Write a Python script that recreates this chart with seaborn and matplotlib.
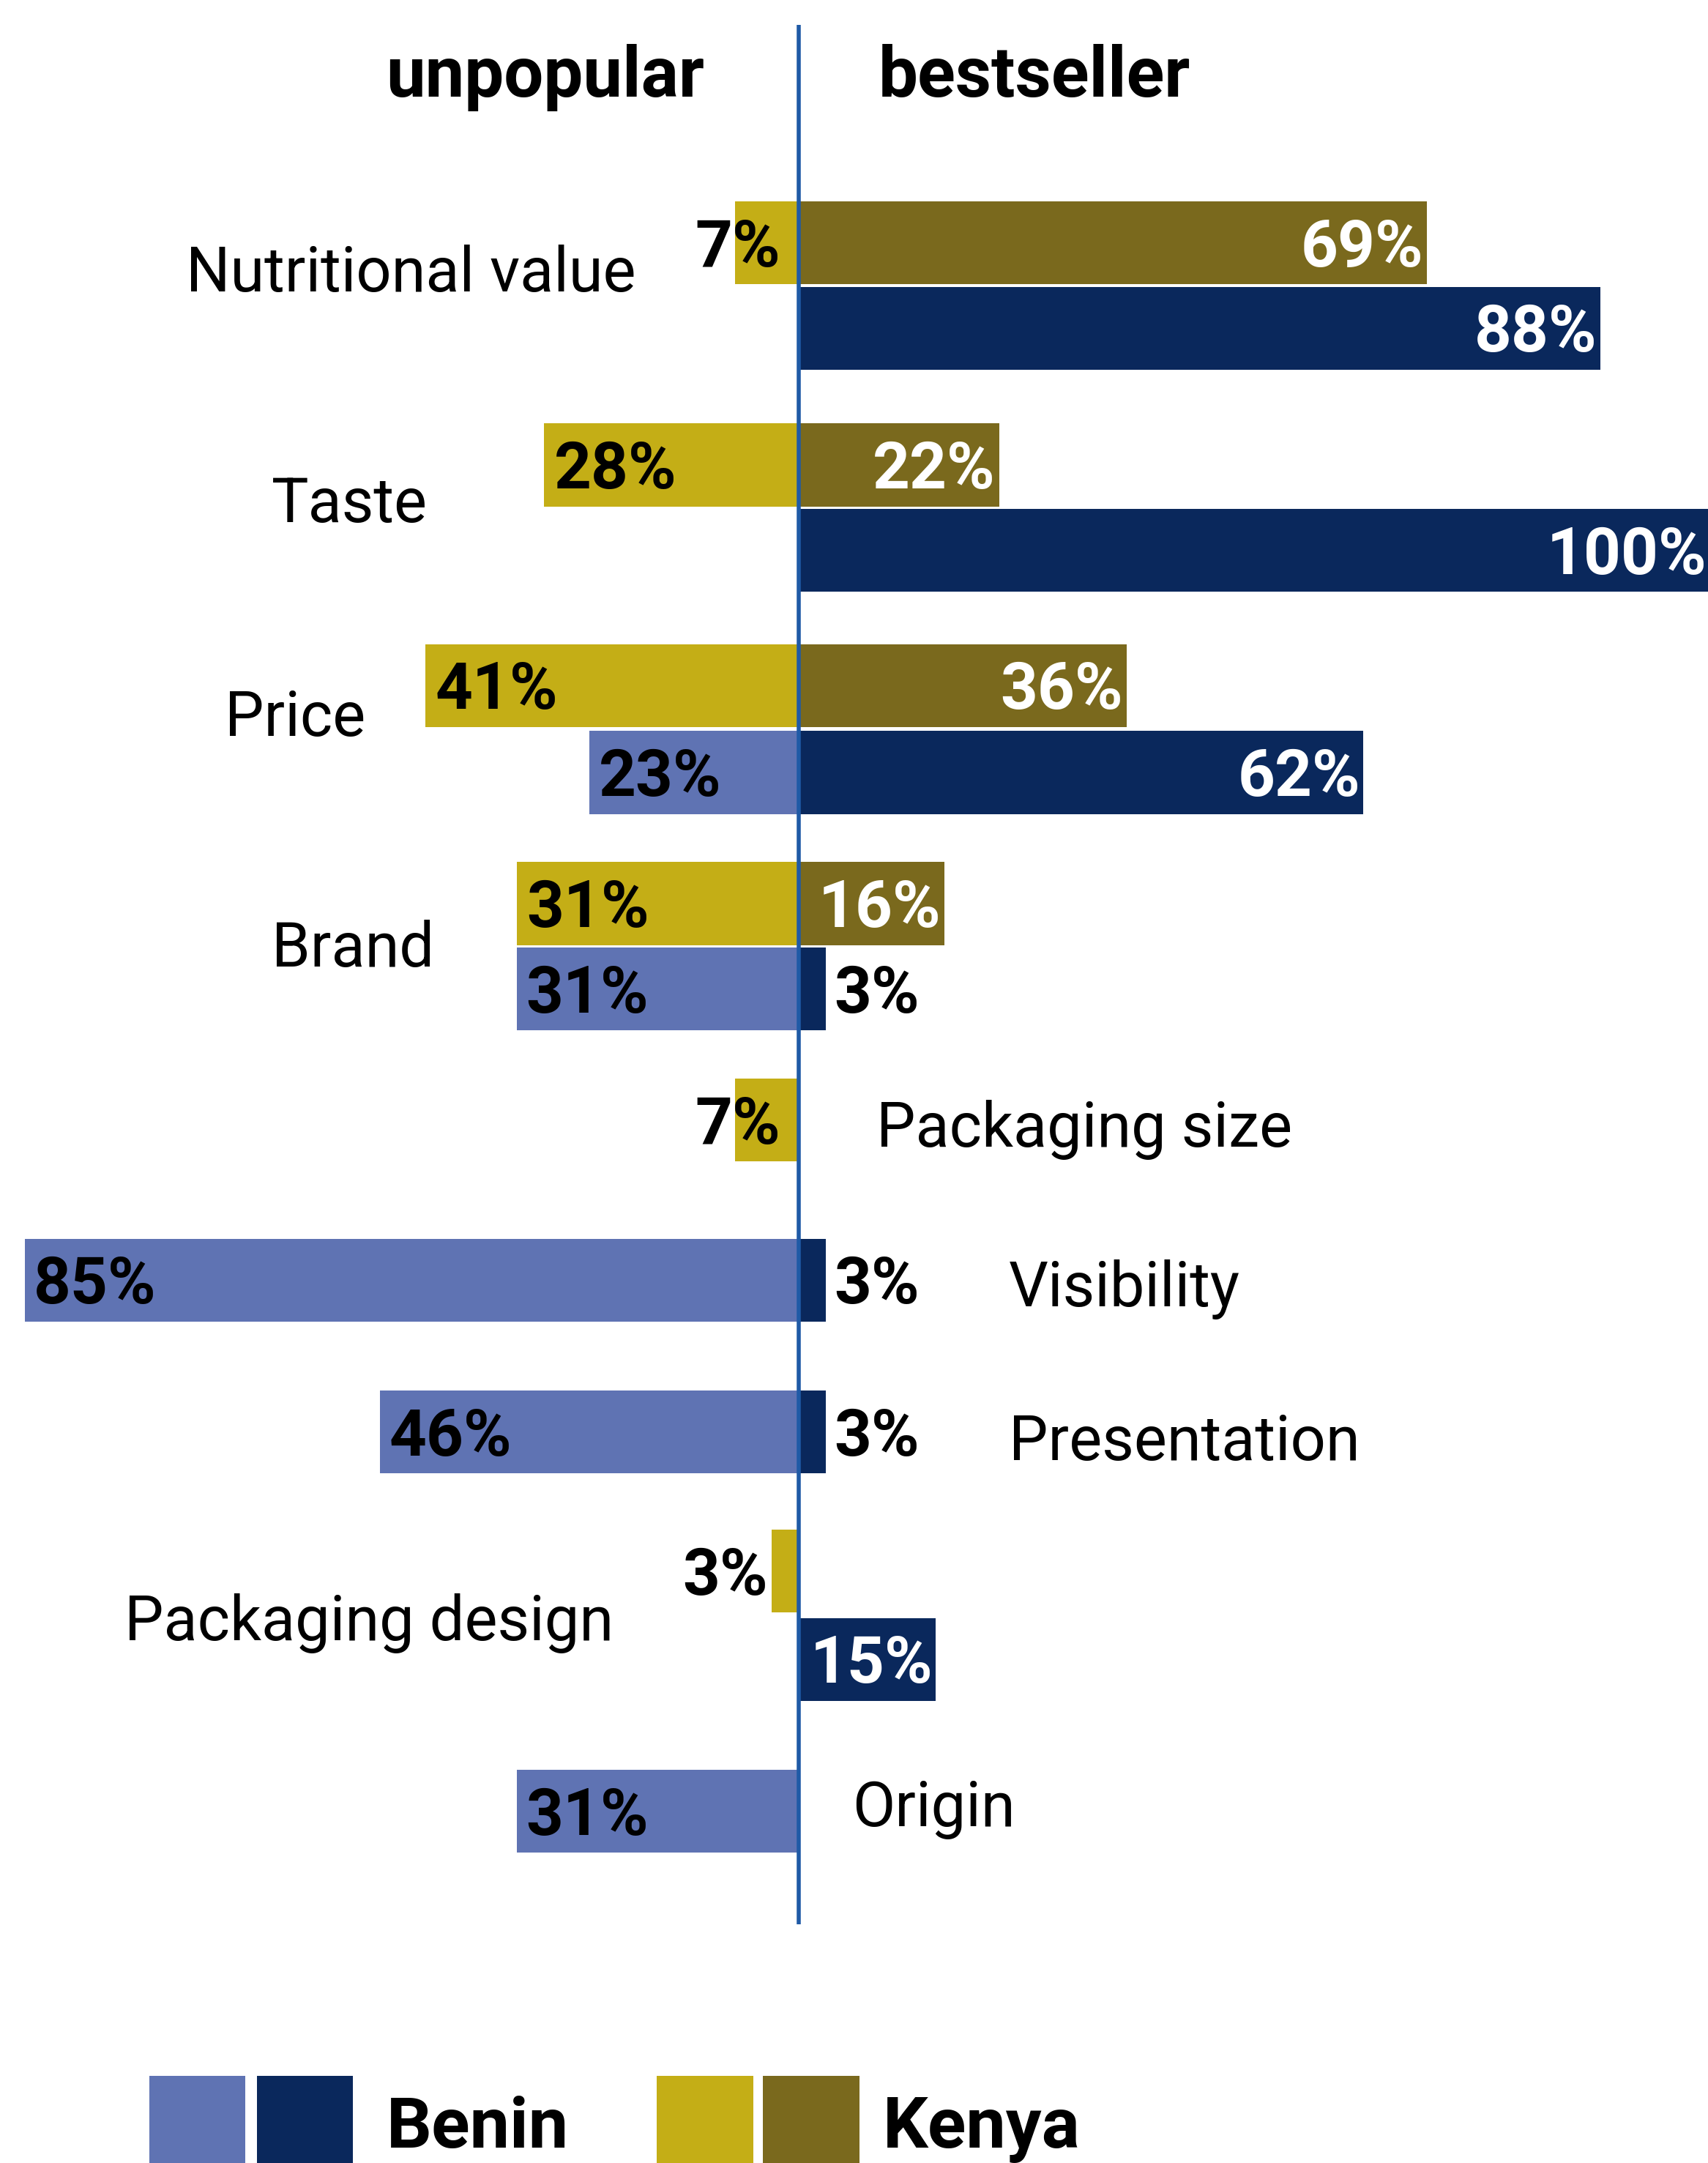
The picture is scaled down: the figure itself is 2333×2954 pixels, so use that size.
import numpy as np
import pandas as pd
import matplotlib
matplotlib.use("Agg")
import matplotlib.pyplot as plt
import seaborn as sns
from matplotlib.patches import Rectangle

# ---------------- data ----------------
categories = ["Nutritional value", "Taste", "Price", "Brand", "Packaging size",
              "Visibility", "Presentation", "Packaging design", "Origin"]
kenya_unpopular  = [7, 28, 41, 31, 7, None, None, 3, None]
kenya_bestseller = [69, 22, 36, 16, None, None, None, None, None]
benin_unpopular  = [None, None, 23, 31, None, 85, 46, None, 31]
benin_bestseller = [88, 100, 62, 3, None, 3, 3, 15, None]
header_labels = ["unpopular", "bestseller"]
legend_labels = ["Benin", "Kenya"]

# ---------------- layout (units = pixels of a 1238 x 1568 canvas) ----------------
W, H = 1238, 1568
ZERO_PX, PX_PER_PCT = 579, 6.6
kenya_row_y = [176, 337, 497, 655, 812, None, None, 1139, None]
benin_row_y = [238, 399, 560, 717, None, 928, 1038, 1203, 1313]
cat_label_pos = [(135, 199), (197, 366), (163, 521), (197, 688), (635, 819),
                 (731, 935), (731, 1046), (90, 1177), (618, 1312)]

colors = {
    "Benin unpopular": "#5F73B3",
    "Benin bestseller": "#0A285C",
    "Kenya unpopular": "#C4AE16",
    "Kenya bestseller": "#7A691D",
}
LINE_COLOR = "#1F5AA6"

sns.set_theme(style="white")
plt.rcParams["font.family"] = ["Roboto", "DejaVu Sans"]

rows = []
series_defs = [
    ("Kenya unpopular", kenya_unpopular, kenya_row_y, -1),
    ("Kenya bestseller", kenya_bestseller, kenya_row_y, 1),
    ("Benin unpopular", benin_unpopular, benin_row_y, -1),
    ("Benin bestseller", benin_bestseller, benin_row_y, 1),
]
for i, cat in enumerate(categories):
    for key, vals, ypos, sign in series_defs:
        v = vals[i]
        if v is None:
            continue
        rows.append(dict(category=cat, series=key, pos=ypos[i], value=sign * v, pct=v))
df = pd.DataFrame(rows)

fig = plt.figure(figsize=(23.33, 29.54), dpi=100)
ax = fig.add_axes([0, 0, 1, 1])

sns.barplot(data=df, x="value", y="pos", hue="series", hue_order=list(colors.keys()),
            palette=colors, orient="h", native_scale=True, dodge=False, width=0.97,
            saturation=1, errorbar=None, legend=False, ax=ax, linewidth=0)

ax.set_xlim(-ZERO_PX / PX_PER_PCT, (W - ZERO_PX) / PX_PER_PCT)
ax.set_ylim(H, 0)
ax.axis("off")

# center line
ax.vlines(0, 18, 1395, color=LINE_COLOR, linewidth=4, zorder=5)

# value labels
LBL = dict(fontsize=64, fontweight="bold", va="center", zorder=6)
dy = 4
for _, r in df.iterrows():
    v, s, y = r["pct"], r["series"], r["pos"] + dy
    t = f"{v}%"
    if s == "Kenya bestseller":
        ax.text(v - 0.4, y, t, ha="right", color="white", **LBL)
    elif s == "Benin bestseller":
        if v >= 10:
            ax.text(v - 0.3, y, t, ha="right", color="white", **LBL)
        else:
            ax.text(v + 0.9, y, t, ha="left", color="black", **LBL)
    elif s == "Kenya unpopular":
        if v >= 10:
            ax.text(-v + 1.1, y, t, ha="left", color="black", **LBL)
        elif v >= 5:
            ax.text(-2.0, y, t, ha="right", color="black", **LBL)
        else:
            ax.text(-v - 0.4, y, t, ha="right", color="black", **LBL)
    else:  # Benin unpopular
        ax.text(-v + 1.0, y, t, ha="left", color="black", **LBL)

# category labels
for cat, (px, py) in zip(categories, cat_label_pos):
    fig.text(px / W, 1 - py / H, cat, fontsize=61, ha="left", va="center", color="black")

# headers
fig.text(395 / W, 1 - 70 / H, header_labels[0], fontsize=69, fontweight="bold",
         ha="center", va="baseline", color="black")
fig.text(750 / W, 1 - 70 / H, header_labels[1], fontsize=69, fontweight="bold",
         ha="center", va="baseline", color="black")

# legend (two swatches per country)
swatches = [
    (108, colors["Benin unpopular"]), (186, colors["Benin bestseller"]),
    (476, colors["Kenya unpopular"]), (553, colors["Kenya bestseller"]),
]
for x0, col in swatches:
    fig.add_artist(Rectangle((x0 / W, 0), 70 / W, (H - 1505) / H,
                             transform=fig.transFigure, color=col, lw=0))
fig.text(280 / W, 1 - 1557 / H, legend_labels[0], fontsize=70, fontweight="bold",
         ha="left", va="baseline", color="black")
fig.text(640 / W, 1 - 1557 / H, legend_labels[1], fontsize=70, fontweight="bold",
         ha="left", va="baseline", color="black")

fig.savefig("out.png", dpi=100, facecolor="white")
